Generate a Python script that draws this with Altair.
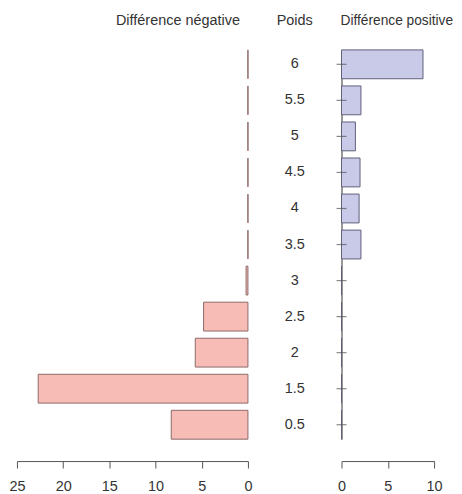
import altair as alt
import pandas as pd

poids = ["0.5", "1.5", "2", "2.5", "3", "3.5", "4", "4.5", "5", "5.5", "6"]
diff_neg = [8.3, 22.7, 5.7, 4.8, 0.2, 0, 0, 0, 0, 0, 0]
diff_pos = [0, 0, 0, 0, 0, 2.1, 1.9, 2.0, 1.5, 2.1, 8.8]
neg_ticks = [0, 5, 10, 15, 20, 25]
pos_ticks = [0, 5, 10]

df = pd.DataFrame({"poids": poids, "neg": diff_neg, "pos": diff_pos})
order = list(reversed(poids))
FONT = "Liberation Sans"
FS = 14.5
H = 391

yscale = alt.Scale(type="band", domain=order, paddingInner=0.2, paddingOuter=0)

xaxis_common = dict(
    labelFontSize=FS, labelColor="#333333", labelFont=FONT, tickSize=7,
    domainColor="#555555", tickColor="#555555", grid=False, offset=22,
    labelPadding=12, labelFlush=False, title=None,
)


def ttl(text, anchor, dx=0, fs=FS):
    return alt.TitleParams(text, anchor=anchor, frame="group", fontSize=fs, font=FONT,
                           fontWeight="normal", color="#333333", offset=21.5, dx=dx)


left = alt.Chart(df).mark_bar(
    fill="#F7BCB5", stroke="#8C6A6A", strokeWidth=1
).encode(
    x=alt.X("neg:Q", scale=alt.Scale(domain=[0, 25], reverse=True, nice=False),
            axis=alt.Axis(values=neg_ticks, **xaxis_common)),
    x2=alt.datum(0),
    y=alt.Y("poids:N", scale=yscale, axis=None),
).properties(width=232, height=H, title=ttl("Différence négative", "end", -8))

middle = alt.Chart(df).mark_text(
    fontSize=FS, font=FONT, color="#333333"
).encode(
    y=alt.Y("poids:N", scale=yscale, axis=None),
    text="poids:N",
).properties(width=94, height=H, title=ttl("Poids", "middle"))

right_bars = alt.Chart(df).mark_bar(
    fill="#C9CAE8", stroke="#5F5F7A", strokeWidth=1
).encode(
    x=alt.X("pos:Q", scale=alt.Scale(domain=[0, 10], nice=False),
            axis=alt.Axis(values=pos_ticks, **xaxis_common)),
    x2=alt.datum(0),
    y=alt.Y("poids:N", scale=yscale,
            axis=alt.Axis(labels=False, ticks=False, title=None, domainColor="#555555",
                          domainWidth=1.2, grid=False)),
)

right_ticks = alt.Chart(df).mark_tick(
    orient="horizontal", size=10, thickness=1.2, color="#555555"
).encode(
    x=alt.datum(0),
    y=alt.Y("poids:N", scale=yscale),
)

right = alt.layer(right_bars, right_ticks).properties(
    width=93, height=H, title=ttl("Différence positive", "start", -1, 13.8)
)

chart = alt.hconcat(left, middle, right, spacing=0, bounds="flush").properties(
    padding={"left": 0, "top": 3, "right": 0, "bottom": 0},
    background="white",
).configure_view(strokeWidth=0)

chart.save("out.html", embed_options={"renderer": "svg", "actions": False})
